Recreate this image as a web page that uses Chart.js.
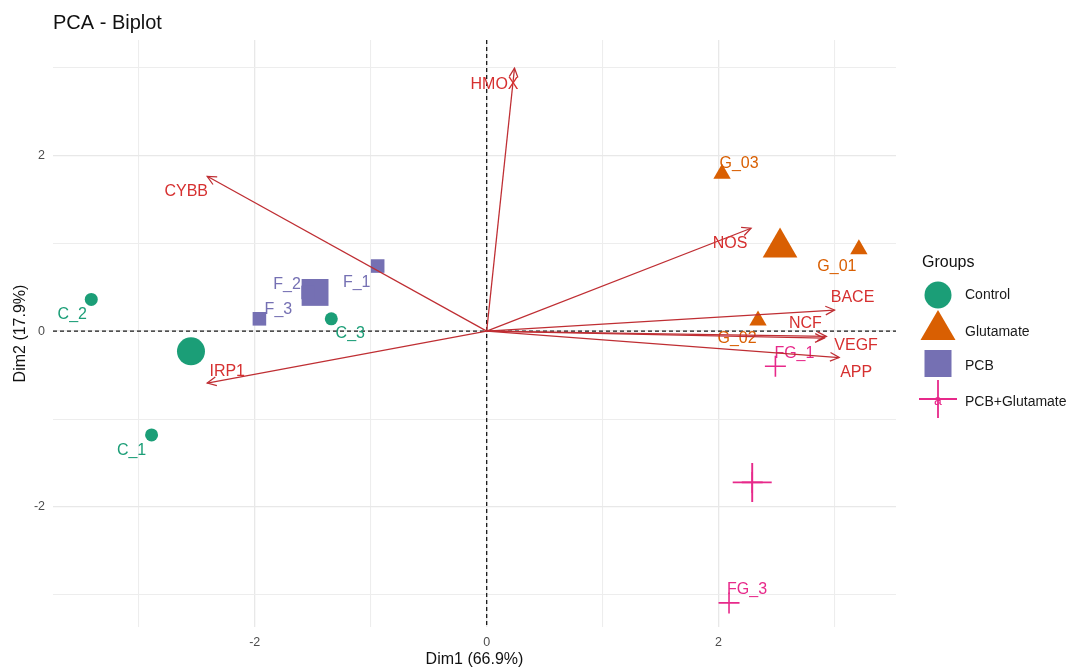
<!DOCTYPE html>
<html>
<head>
<meta charset="utf-8">
<title>PCA - Biplot</title>
<script src="https://cdn.jsdelivr.net/npm/chart.js@4.4.1/dist/chart.umd.min.js"></script>
<style>
  html, body { margin: 0; padding: 0; background: #ffffff; }
  #wrap { width: 1067px; height: 669px; }
</style>
</head>
<body>
<div id="wrap"><canvas id="biplot" width="1067" height="669"></canvas></div>
<script>
// ---- Individuals (scores on Dim1 / Dim2) ----
const controlNames = ['C_1', 'C_2', 'C_3'];
const controlDim1  = [-2.89, -3.41, -1.34];
const controlDim2  = [-1.18, 0.36, 0.14];

const glutNames = ['G_01', 'G_02', 'G_03'];
const glutDim1  = [3.21, 2.34, 2.03];
const glutDim2  = [0.93, 0.12, 1.79];

const pcbNames = ['F_1', 'F_2', 'F_3'];
const pcbDim1  = [-0.94, -1.54, -1.96];
const pcbDim2  = [0.74, 0.44, 0.14];

const pgNames = ['FG_1', 'FG_2', 'FG_3'];
const pgDim1  = [2.49, 2.29, 2.09];
const pgDim2  = [-0.40, -1.72, -3.09];

// ---- Group centres (mean points) ----
const groupNames   = ['Control', 'Glutamate', 'PCB', 'PCB+Glutamate'];
const centroidDim1 = [-2.55, 2.53, -1.48, 2.29];
const centroidDim2 = [-0.23, 0.95, 0.44, -1.72];

// ---- Variables (loading arrows) ----
const varNames = ['HMOX', 'CYBB', 'IRP1', 'NOS', 'BACE', 'NCF', 'VEGF', 'APP'];
const varDim1  = [0.24, -2.41, -2.41, 2.28, 3.00, 2.93, 2.91, 3.04];
const varDim2  = [2.99, 1.76, -0.59, 1.17, 0.24, -0.06, -0.08, -0.30];

// ---- Axis ticks ----
const xTicks = [-3, -2, -1, 0, 1, 2, 3];
const yTicks = [-3, -2, -1, 0, 1, 2, 3];

// ---- Styling ----
const FONT = '"Liberation Sans", Arial, Helvetica, sans-serif';
const groupColors = ['#1B9E77', '#D95F02', '#7570B3', '#E7298A'];
const groupStyles = ['circle', 'triangle', 'rect', 'cross'];
const pointRadii  = [6.5, 10, 9.6, 10.5];
const centreRadii = [14, 20, 19, 19.5];
const ARROW_COLOR = '#BF2E33';
const VAR_TEXT    = '#D63030';

// Pixel nudges for text labels (label centre relative to its mark)
const labelNudge = {
  C_1: [-20, 16], C_2: [-19, 15], C_3: [19, 15],
  F_1: [-21, 17], F_2: [-21, -8], F_3: [19, -9],
  G_01: [-22, 17], G_02: [-21, 18], G_03: [17, -10],
  FG_1: [19, -13], FG_3: [18, -13],
  HMOX: [-20, 16], CYBB: [-21, 15], IRP1: [20, -11], NOS: [-21, 15],
  BACE: [18, -12], NCF: [-21, -13], VEGF: [32, 7], APP: [17, 15]
};

const toPoints = (xs, ys) => xs.map((x, i) => ({ x: x, y: ys[i] }));

const individuals = [
  { names: controlNames, d1: controlDim1, d2: controlDim2 },
  { names: glutNames,    d1: glutDim1,    d2: glutDim2 },
  { names: pcbNames,     d1: pcbDim1,     d2: pcbDim2 },
  { names: pgNames,      d1: pgDim1,      d2: pgDim2 }
];

const datasets = [];

// Loading arrows: drawn above the individuals
varNames.forEach((name, i) => {
  datasets.push({
    label: name,
    varName: name,
    data: [{ x: 0, y: 0 }, { x: varDim1[i], y: varDim2[i] }],
    showLine: true,
    fill: false,
    borderColor: ARROW_COLOR,
    borderWidth: 1.25,
    pointRadius: 0,
    order: 1
  });
});

// Individuals and group centres
individuals.forEach((g, gi) => {
  const color = groupColors[gi];
  const isCross = groupStyles[gi] === 'cross';
  datasets.push({
    label: groupNames[gi],
    names: g.names,
    textColor: color,
    data: toPoints(g.d1, g.d2),
    pointStyle: groupStyles[gi],
    pointRadius: pointRadii[gi],
    backgroundColor: color,
    borderColor: color,
    borderWidth: isCross ? 1.6 : 0,
    order: 2
  });
  datasets.push({
    label: groupNames[gi] + ' centre',
    data: [{ x: centroidDim1[gi], y: centroidDim2[gi] }],
    pointStyle: groupStyles[gi],
    pointRadius: centreRadii[gi],
    backgroundColor: color,
    borderColor: color,
    borderWidth: isCross ? 1.9 : 0,
    order: 2
  });
});

function drawArrowHead(ctx, x0, y0, x1, y1) {
  const ang = Math.atan2(y1 - y0, x1 - x0);
  const len = 10, spread = Math.PI / 7;
  ctx.beginPath();
  ctx.moveTo(x1 - len * Math.cos(ang - spread), y1 - len * Math.sin(ang - spread));
  ctx.lineTo(x1, y1);
  ctx.lineTo(x1 - len * Math.cos(ang + spread), y1 - len * Math.sin(ang + spread));
  ctx.stroke();
}

const biplotPlugin = {
  id: 'biplotDecor',
  beforeDatasetsDraw(chart) {
    const { ctx, chartArea: a, scales: { x, y } } = chart;
    const x0 = x.getPixelForValue(0), y0 = y.getPixelForValue(0);
    ctx.save();
    ctx.strokeStyle = '#1a1a1a';
    ctx.lineWidth = 1.3;
    ctx.setLineDash([4, 3]);
    ctx.beginPath();
    ctx.moveTo(a.left, y0); ctx.lineTo(a.right, y0);
    ctx.moveTo(x0, a.top);  ctx.lineTo(x0, a.bottom);
    ctx.stroke();
    ctx.restore();
  },
  afterDatasetDraw(chart, args) {
    const ds = chart.data.datasets[args.index];
    const els = args.meta.data;
    const ctx = chart.ctx;
    ctx.save();
    if (ds.names) {
      ctx.font = '16px ' + FONT;
      ctx.fillStyle = ds.textColor;
      ctx.textAlign = 'center';
      ctx.textBaseline = 'middle';
      ds.names.forEach((n, i) => {
        const nd = labelNudge[n];
        if (!nd) return;
        ctx.fillText(n, els[i].x + nd[0], els[i].y + nd[1]);
      });
    }
    if (ds.varName) {
      ctx.strokeStyle = ARROW_COLOR;
      ctx.lineWidth = 1.25;
      drawArrowHead(ctx, els[0].x, els[0].y, els[1].x, els[1].y);
    }
    ctx.restore();
  },
  afterDatasetsDraw(chart) {
    const ctx = chart.ctx;
    ctx.save();
    ctx.font = '16px ' + FONT;
    ctx.fillStyle = VAR_TEXT;
    ctx.textAlign = 'center';
    ctx.textBaseline = 'middle';
    chart.data.datasets.forEach((ds, di) => {
      if (!ds.varName) return;
      const tip = chart.getDatasetMeta(di).data[1];
      const nd = labelNudge[ds.varName];
      ctx.fillText(ds.varName, tip.x + nd[0], tip.y + nd[1]);
    });
    ctx.restore();
  },
  afterDraw(chart) {
    const { ctx, chartArea: a } = chart;
    ctx.save();
    // Title
    ctx.fillStyle = '#111111';
    ctx.font = '20px ' + FONT;
    ctx.textAlign = 'left';
    ctx.textBaseline = 'alphabetic';
    ctx.fillText('PCA - Biplot', a.left, 29);
    // Axis titles
    ctx.font = '16px ' + FONT;
    ctx.textAlign = 'center';
    ctx.textBaseline = 'middle';
    ctx.fillText('Dim1 (66.9%)', (a.left + a.right) / 2, 660);
    ctx.save();
    ctx.translate(21, (a.top + a.bottom) / 2);
    ctx.rotate(-Math.PI / 2);
    ctx.fillText('Dim2 (17.9%)', 0, 0);
    ctx.restore();

    // Legend
    const lx = 938;
    ctx.textAlign = 'left';
    ctx.fillStyle = '#111111';
    ctx.font = '16px ' + FONT;
    ctx.fillText('Groups', 922, 263);

    // Control: circle
    ctx.fillStyle = groupColors[0];
    ctx.beginPath(); ctx.arc(lx, 295, 13.5, 0, Math.PI * 2); ctx.fill();
    // Glutamate: triangle
    ctx.fillStyle = groupColors[1];
    ctx.beginPath();
    ctx.moveTo(lx, 310); ctx.lineTo(lx - 17.5, 340); ctx.lineTo(lx + 17.5, 340);
    ctx.closePath(); ctx.fill();
    // PCB: square
    ctx.fillStyle = groupColors[2];
    ctx.fillRect(lx - 13.5, 350, 27, 27);
    // PCB+Glutamate: plus with text key
    ctx.strokeStyle = groupColors[3];
    ctx.lineWidth = 1.8;
    ctx.beginPath();
    ctx.moveTo(lx - 19, 399); ctx.lineTo(lx + 19, 399);
    ctx.moveTo(lx, 380); ctx.lineTo(lx, 418);
    ctx.stroke();
    ctx.fillStyle = groupColors[3];
    ctx.font = '14px ' + FONT;
    ctx.textAlign = 'center';
    ctx.fillText('a', lx, 401);

    ctx.fillStyle = '#1a1a1a';
    ctx.textAlign = 'left';
    ctx.font = '14px ' + FONT;
    const legendY = [295, 332, 366, 402];
    groupNames.forEach((n, i) => ctx.fillText(n, 965, legendY[i]));
    ctx.restore();
  }
};

const gridColor = c => (c.tick && c.tick.value % 2 === 0) ? '#E8E8E8' : '#EDEDED';
const gridWidth = c => (c.tick && c.tick.value % 2 === 0) ? 1.3 : 1.1;
const tickLabel = v => (v % 2 === 0 ? String(v) : '');

new Chart(document.getElementById('biplot'), {
  type: 'scatter',
  data: { datasets: datasets },
  options: {
    responsive: false,
    animation: false,
    devicePixelRatio: 1,
    events: [],
    layout: { padding: { top: 40, right: 171, bottom: 0, left: 0 } },
    plugins: {
      legend: { display: false },
      tooltip: { enabled: false },
      title: { display: false }
    },
    scales: {
      x: {
        type: 'linear',
        min: -3.74,
        max: 3.53,
        afterBuildTicks: s => { s.ticks = xTicks.map(v => ({ value: v })); },
        afterFit: s => { s.height = 42; },
        border: { display: false },
        grid: { color: gridColor, lineWidth: gridWidth, drawTicks: false },
        ticks: {
          padding: 8, autoSkip: false, maxRotation: 0,
          color: '#4D4D4D', font: { family: FONT, size: 12.5 },
          callback: tickLabel
        }
      },
      y: {
        type: 'linear',
        min: -3.364,
        max: 3.31,
        afterBuildTicks: s => { s.ticks = yTicks.map(v => ({ value: v })); },
        afterFit: s => { s.width = 53; },
        border: { display: false },
        grid: { color: gridColor, lineWidth: gridWidth, drawTicks: false },
        ticks: {
          padding: 8, autoSkip: false,
          color: '#4D4D4D', font: { family: FONT, size: 12.5 },
          callback: tickLabel
        }
      }
    }
  },
  plugins: [biplotPlugin]
});
</script>
</body>
</html>
